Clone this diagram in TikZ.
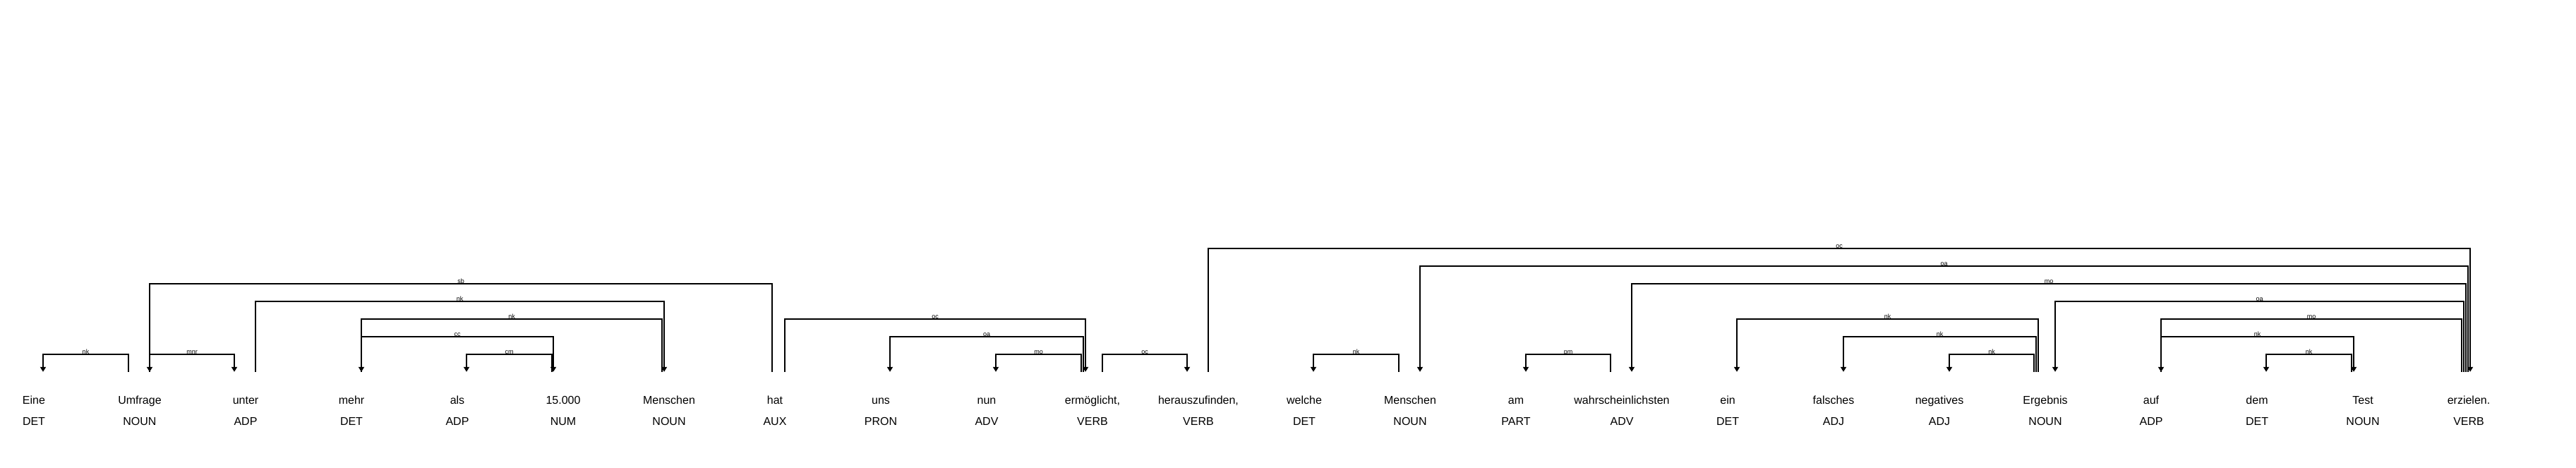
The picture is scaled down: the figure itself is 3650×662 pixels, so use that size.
\documentclass[tikz,border=0pt]{standalone}
\usepackage{fontspec}
\setmainfont{Liberation Sans}
\usepackage{tikz}
\usetikzlibrary{arrows.meta, positioning}

\begin{document}
\begin{tikzpicture}[
    x=1pt, y=1pt,
    word/.style={anchor=base, inner sep=0pt, text height=45pt, text depth=4pt, font=\fontsize{16}{18}\selectfont},
    tag/.style={inner sep=0pt, text height=12pt, text depth=0pt, font=\fontsize{16}{18}\selectfont},
    arc/.style={-{Triangle[width=8pt,length=7pt]}, line width=1.8pt},
    lbl/.style={pos=0.25, anchor=base, inner sep=0pt, font=\fontsize{9}{10}\selectfont}
]
\path[fill=white] (0,0) rectangle (3650,662);

% words
\node[word] (w0) at (48,90) {Eine};
\node[word] (w1) at (198,90) {Umfrage};
\node[word] (w2) at (348,90) {unter};
\node[word] (w3) at (498,90) {mehr};
\node[word] (w4) at (648,90) {als};
\node[word] (w5) at (798,90) {15.000};
\node[word] (w6) at (948,90) {Menschen};
\node[word] (w7) at (1098,90) {hat};
\node[word] (w8) at (1248,90) {uns};
\node[word] (w9) at (1398,90) {nun};
\node[word] (w10) at (1548,90) {ermöglicht,};
\node[word] (w11) at (1698,90) {herauszufinden,};
\node[word] (w12) at (1848,90) {welche};
\node[word] (w13) at (1998,90) {Menschen};
\node[word] (w14) at (2148,90) {am};
\node[word] (w15) at (2298,90) {wahrscheinlichsten};
\node[word] (w16) at (2448,90) {ein};
\node[word] (w17) at (2598,90) {falsches};
\node[word] (w18) at (2748,90) {negatives};
\node[word] (w19) at (2898,90) {Ergebnis};
\node[word] (w20) at (3048,90) {auf};
\node[word] (w21) at (3198,90) {dem};
\node[word] (w22) at (3348,90) {Test};
\node[word] (w23) at (3498,90) {erzielen.};

% part-of-speech tags
\node[tag, below=14pt of w0] (t0) {DET};
\node[tag, below=14pt of w1] (t1) {NOUN};
\node[tag, below=14pt of w2] (t2) {ADP};
\node[tag, below=14pt of w3] (t3) {DET};
\node[tag, below=14pt of w4] (t4) {ADP};
\node[tag, below=14pt of w5] (t5) {NUM};
\node[tag, below=14pt of w6] (t6) {NOUN};
\node[tag, below=14pt of w7] (t7) {AUX};
\node[tag, below=14pt of w8] (t8) {PRON};
\node[tag, below=14pt of w9] (t9) {ADV};
\node[tag, below=14pt of w10] (t10) {VERB};
\node[tag, below=14pt of w11] (t11) {VERB};
\node[tag, below=14pt of w12] (t12) {DET};
\node[tag, below=14pt of w13] (t13) {NOUN};
\node[tag, below=14pt of w14] (t14) {PART};
\node[tag, below=14pt of w15] (t15) {ADV};
\node[tag, below=14pt of w16] (t16) {DET};
\node[tag, below=14pt of w17] (t17) {ADJ};
\node[tag, below=14pt of w18] (t18) {ADJ};
\node[tag, below=14pt of w19] (t19) {NOUN};
\node[tag, below=14pt of w20] (t20) {ADP};
\node[tag, below=14pt of w21] (t21) {DET};
\node[tag, below=14pt of w22] (t22) {NOUN};
\node[tag, below=14pt of w23] (t23) {VERB};

% dependency arcs
\draw[arc] ([xshift=-16pt]w1.north) -- ++(0,25) -| node[lbl] {nk} ([xshift=13pt]w0.north);
\draw[arc] ([xshift=14pt]w1.north) -- ++(0,25) -| node[lbl] {mnr} ([xshift=-16pt]w2.north);
\draw[arc] ([xshift=14pt]w2.north) -- ++(0,100) -| node[lbl] {nk} ([xshift=-7pt]w6.north);
\draw[arc] ([xshift=-10pt]w6.north) -- ++(0,75) -| node[lbl] {nk} ([xshift=14pt]w3.north);
\draw[arc] ([xshift=14pt]w3.north) -- ++(0,50) -| node[lbl] {cc} ([xshift=-14pt]w5.north);
\draw[arc] ([xshift=-16pt]w5.north) -- ++(0,25) -| node[lbl] {cm} ([xshift=13pt]w4.north);
\draw[arc] ([xshift=-4pt]w7.north) -- ++(0,125) -| node[lbl] {sb} ([xshift=14pt]w1.north);
\draw[arc] ([xshift=14pt]w7.north) -- ++(0,75) -| node[lbl] {oc} ([xshift=-10pt]w10.north);
\draw[arc] ([xshift=-13pt]w10.north) -- ++(0,50) -| node[lbl] {oa} ([xshift=13pt]w8.north);
\draw[arc] ([xshift=-16pt]w10.north) -- ++(0,25) -| node[lbl] {mo} ([xshift=13pt]w9.north);
\draw[arc] ([xshift=14pt]w10.north) -- ++(0,25) -| node[lbl] {oc} ([xshift=-16pt]w11.north);
\draw[arc] ([xshift=14pt]w11.north) -- ++(0,175) -| node[lbl] {oc} ([xshift=2pt]w23.north);
\draw[arc] ([xshift=-16pt]w13.north) -- ++(0,25) -| node[lbl] {nk} ([xshift=13pt]w12.north);
\draw[arc] ([xshift=-1pt]w23.north) -- ++(0,150) -| node[lbl] {oa} ([xshift=14pt]w13.north);
\draw[arc] ([xshift=-16pt]w15.north) -- ++(0,25) -| node[lbl] {pm} ([xshift=14pt]w14.north);
\draw[arc] ([xshift=-4pt]w23.north) -- ++(0,125) -| node[lbl] {mo} ([xshift=14pt]w15.north);
\draw[arc] ([xshift=-10pt]w19.north) -- ++(0,75) -| node[lbl] {nk} ([xshift=13pt]w16.north);
\draw[arc] ([xshift=-13pt]w19.north) -- ++(0,50) -| node[lbl] {nk} ([xshift=14pt]w17.north);
\draw[arc] ([xshift=-16pt]w19.north) -- ++(0,25) -| node[lbl] {nk} ([xshift=14pt]w18.north);
\draw[arc] ([xshift=-7pt]w23.north) -- ++(0,100) -| node[lbl] {oa} ([xshift=14pt]w19.north);
\draw[arc] ([xshift=-10pt]w23.north) -- ++(0,75) -| node[lbl] {mo} ([xshift=14pt]w20.north);
\draw[arc] ([xshift=14pt]w20.north) -- ++(0,50) -| node[lbl] {nk} ([xshift=-13pt]w22.north);
\draw[arc] ([xshift=-16pt]w22.north) -- ++(0,25) -| node[lbl] {nk} ([xshift=13pt]w21.north);
\end{tikzpicture}
\end{document}
